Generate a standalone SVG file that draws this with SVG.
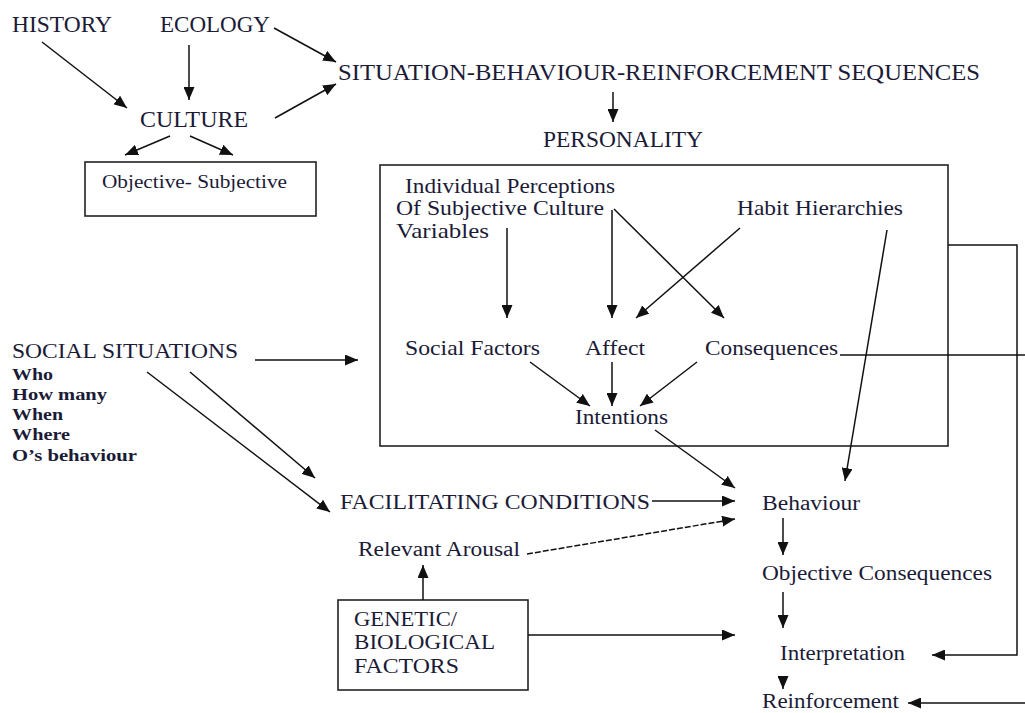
<svg xmlns="http://www.w3.org/2000/svg" width="1025" height="713" viewBox="0 0 1025 713">
  <style>
    text { font-family: "Liberation Serif", "Times New Roman", serif; fill: #1b1b38; }
    .big { font-size: 23px; }
    .mid { font-size: 21px; }
    .low { font-size: 20px; }
    .sm { font-size: 18px; }
    .bold { font-size: 17px; font-weight: bold; }
    .box { fill: #ffffff; stroke: #222; stroke-width: 1.6; }
    .ln { fill: none; stroke: #111; stroke-width: 1.5; }
    .arr { fill: none; stroke: #111; stroke-width: 1.5; marker-end: url(#ah); }
  </style>
  <defs>
    <marker id="ah" viewBox="0 0 13 11" refX="13" refY="5.5" markerWidth="13" markerHeight="11" orient="auto" markerUnits="userSpaceOnUse">
      <path d="M0,0 L13,5.5 L0,11 z" fill="#111"/>
    </marker>
  </defs>
  <rect width="1025" height="713" fill="#ffffff"/>

  <g id="history"><text class="big" x="12" y="32" textLength="100" lengthAdjust="spacingAndGlyphs">HISTORY</text></g>
  <g id="ecology"><text class="big" x="160" y="32" textLength="110" lengthAdjust="spacingAndGlyphs">ECOLOGY</text></g>
  <g id="sbr-sequences"><text class="big" x="338" y="80" textLength="642" lengthAdjust="spacingAndGlyphs">SITUATION-BEHAVIOUR-REINFORCEMENT SEQUENCES</text></g>
  <g id="culture"><text class="big" x="140" y="127" textLength="108" lengthAdjust="spacingAndGlyphs">CULTURE</text></g>
  <g id="objective-subjective">
    <rect class="box" x="85" y="162" width="231" height="54"/>
    <text class="sm" x="102" y="188" textLength="185" lengthAdjust="spacingAndGlyphs">Objective- Subjective</text>
  </g>
  <g id="personality-title"><text class="big" x="543" y="147" textLength="160" lengthAdjust="spacingAndGlyphs">PERSONALITY</text></g>
  <g id="personality-box"><rect class="box" x="380" y="165" width="568" height="281"/></g>
  <g id="perceptions">
    <text class="mid" x="405" y="193" textLength="210" lengthAdjust="spacingAndGlyphs">Individual Perceptions</text>
    <text class="mid" x="396" y="215" textLength="208" lengthAdjust="spacingAndGlyphs">Of Subjective Culture</text>
    <text class="mid" x="396" y="238" textLength="93" lengthAdjust="spacingAndGlyphs">Variables</text>
  </g>
  <g id="habit-hierarchies"><text class="mid" x="737" y="215" textLength="166" lengthAdjust="spacingAndGlyphs">Habit Hierarchies</text></g>
  <g id="social-factors"><text class="mid" x="405" y="355" textLength="135" lengthAdjust="spacingAndGlyphs">Social Factors</text></g>
  <g id="affect"><text class="mid" x="585" y="355" textLength="60" lengthAdjust="spacingAndGlyphs">Affect</text></g>
  <g id="consequences"><text class="mid" x="705" y="355" textLength="133" lengthAdjust="spacingAndGlyphs">Consequences</text></g>
  <g id="intentions"><text class="mid" x="575" y="424" textLength="93" lengthAdjust="spacingAndGlyphs">Intentions</text></g>
  <g id="social-situations">
    <text class="mid" x="12" y="358" textLength="226" lengthAdjust="spacingAndGlyphs">SOCIAL SITUATIONS</text>
    <text class="bold" x="12" y="380" textLength="41" lengthAdjust="spacingAndGlyphs">Who</text>
    <text class="bold" x="12" y="400" textLength="95" lengthAdjust="spacingAndGlyphs">How many</text>
    <text class="bold" x="12" y="420" textLength="51" lengthAdjust="spacingAndGlyphs">When</text>
    <text class="bold" x="12" y="440" textLength="58" lengthAdjust="spacingAndGlyphs">Where</text>
    <text class="bold" x="12" y="461" textLength="125" lengthAdjust="spacingAndGlyphs">O’s behaviour</text>
  </g>
  <g id="facilitating-conditions"><text class="mid" x="340" y="509" textLength="310" lengthAdjust="spacingAndGlyphs">FACILITATING CONDITIONS</text></g>
  <g id="relevant-arousal"><text class="low" x="358" y="556" textLength="162" lengthAdjust="spacingAndGlyphs">Relevant Arousal</text></g>
  <g id="behaviour"><text class="low" x="762" y="510" textLength="98" lengthAdjust="spacingAndGlyphs">Behaviour</text></g>
  <g id="objective-consequences"><text class="low" x="762" y="580" textLength="230" lengthAdjust="spacingAndGlyphs">Objective Consequences</text></g>
  <g id="genetic-biological">
    <rect class="box" x="338" y="600" width="190" height="90"/>
    <text class="low" x="354" y="626" textLength="103" lengthAdjust="spacingAndGlyphs">GENETIC/</text>
    <text class="low" x="354" y="649" textLength="141" lengthAdjust="spacingAndGlyphs">BIOLOGICAL</text>
    <text class="low" x="354" y="673" textLength="105" lengthAdjust="spacingAndGlyphs">FACTORS</text>
  </g>
  <g id="interpretation"><text class="low" x="780" y="660" textLength="125" lengthAdjust="spacingAndGlyphs">Interpretation</text></g>
  <g id="reinforcement"><text class="low" x="762" y="708" textLength="137" lengthAdjust="spacingAndGlyphs">Reinforcement</text></g>

  <g id="connectors">
    <!-- top section -->
    <line class="arr" x1="42" y1="42" x2="127" y2="108"/>
    <line class="arr" x1="189" y1="45" x2="189" y2="100"/>
    <line class="arr" x1="274" y1="28" x2="336" y2="62"/>
    <line class="arr" x1="275" y1="118" x2="336" y2="84"/>
    <line class="arr" x1="170" y1="136" x2="125" y2="155"/>
    <line class="arr" x1="190" y1="136" x2="233" y2="155"/>
    <line class="arr" x1="613" y1="92" x2="613" y2="122"/>
    <!-- inside the personality box -->
    <line class="arr" x1="507" y1="228" x2="507" y2="318"/>
    <line class="arr" x1="612" y1="210" x2="612" y2="318"/>
    <line class="arr" x1="614" y1="209" x2="724" y2="318"/>
    <line class="arr" x1="740" y1="228" x2="636" y2="318"/>
    <line class="arr" x1="530" y1="362" x2="590" y2="406"/>
    <line class="arr" x1="612" y1="362" x2="612" y2="406"/>
    <line class="arr" x1="697" y1="362" x2="640" y2="406"/>
    <!-- into behaviour -->
    <line class="arr" x1="887" y1="230" x2="845" y2="481"/>
    <line class="arr" x1="655" y1="430" x2="735" y2="488"/>
    <line class="arr" x1="652" y1="501" x2="735" y2="501"/>
    <line class="arr" x1="527" y1="554" x2="735" y2="519" style="stroke-dasharray:6 2"/>
    <!-- social situations -->
    <line class="arr" x1="255" y1="360" x2="358" y2="360"/>
    <line class="arr" x1="190" y1="372" x2="315" y2="478"/>
    <line class="arr" x1="147" y1="372" x2="330" y2="512"/>
    <!-- genetic / biological -->
    <line class="arr" x1="423" y1="600" x2="423" y2="565"/>
    <line class="arr" x1="528" y1="635" x2="735" y2="635"/>
    <!-- behaviour chain -->
    <line class="arr" x1="783" y1="518" x2="783" y2="555"/>
    <line class="arr" x1="783" y1="592" x2="783" y2="628"/>
    <line class="arr" x1="783" y1="676" x2="783" y2="689"/>
    <!-- feedback lines on the right -->
    <line class="ln" x1="840" y1="355" x2="1025" y2="355"/>
    <polyline class="arr" points="948,245 1017,245 1017,655 932,655"/>
    <line class="arr" x1="1025" y1="703" x2="908" y2="703"/>
  </g>
</svg>
